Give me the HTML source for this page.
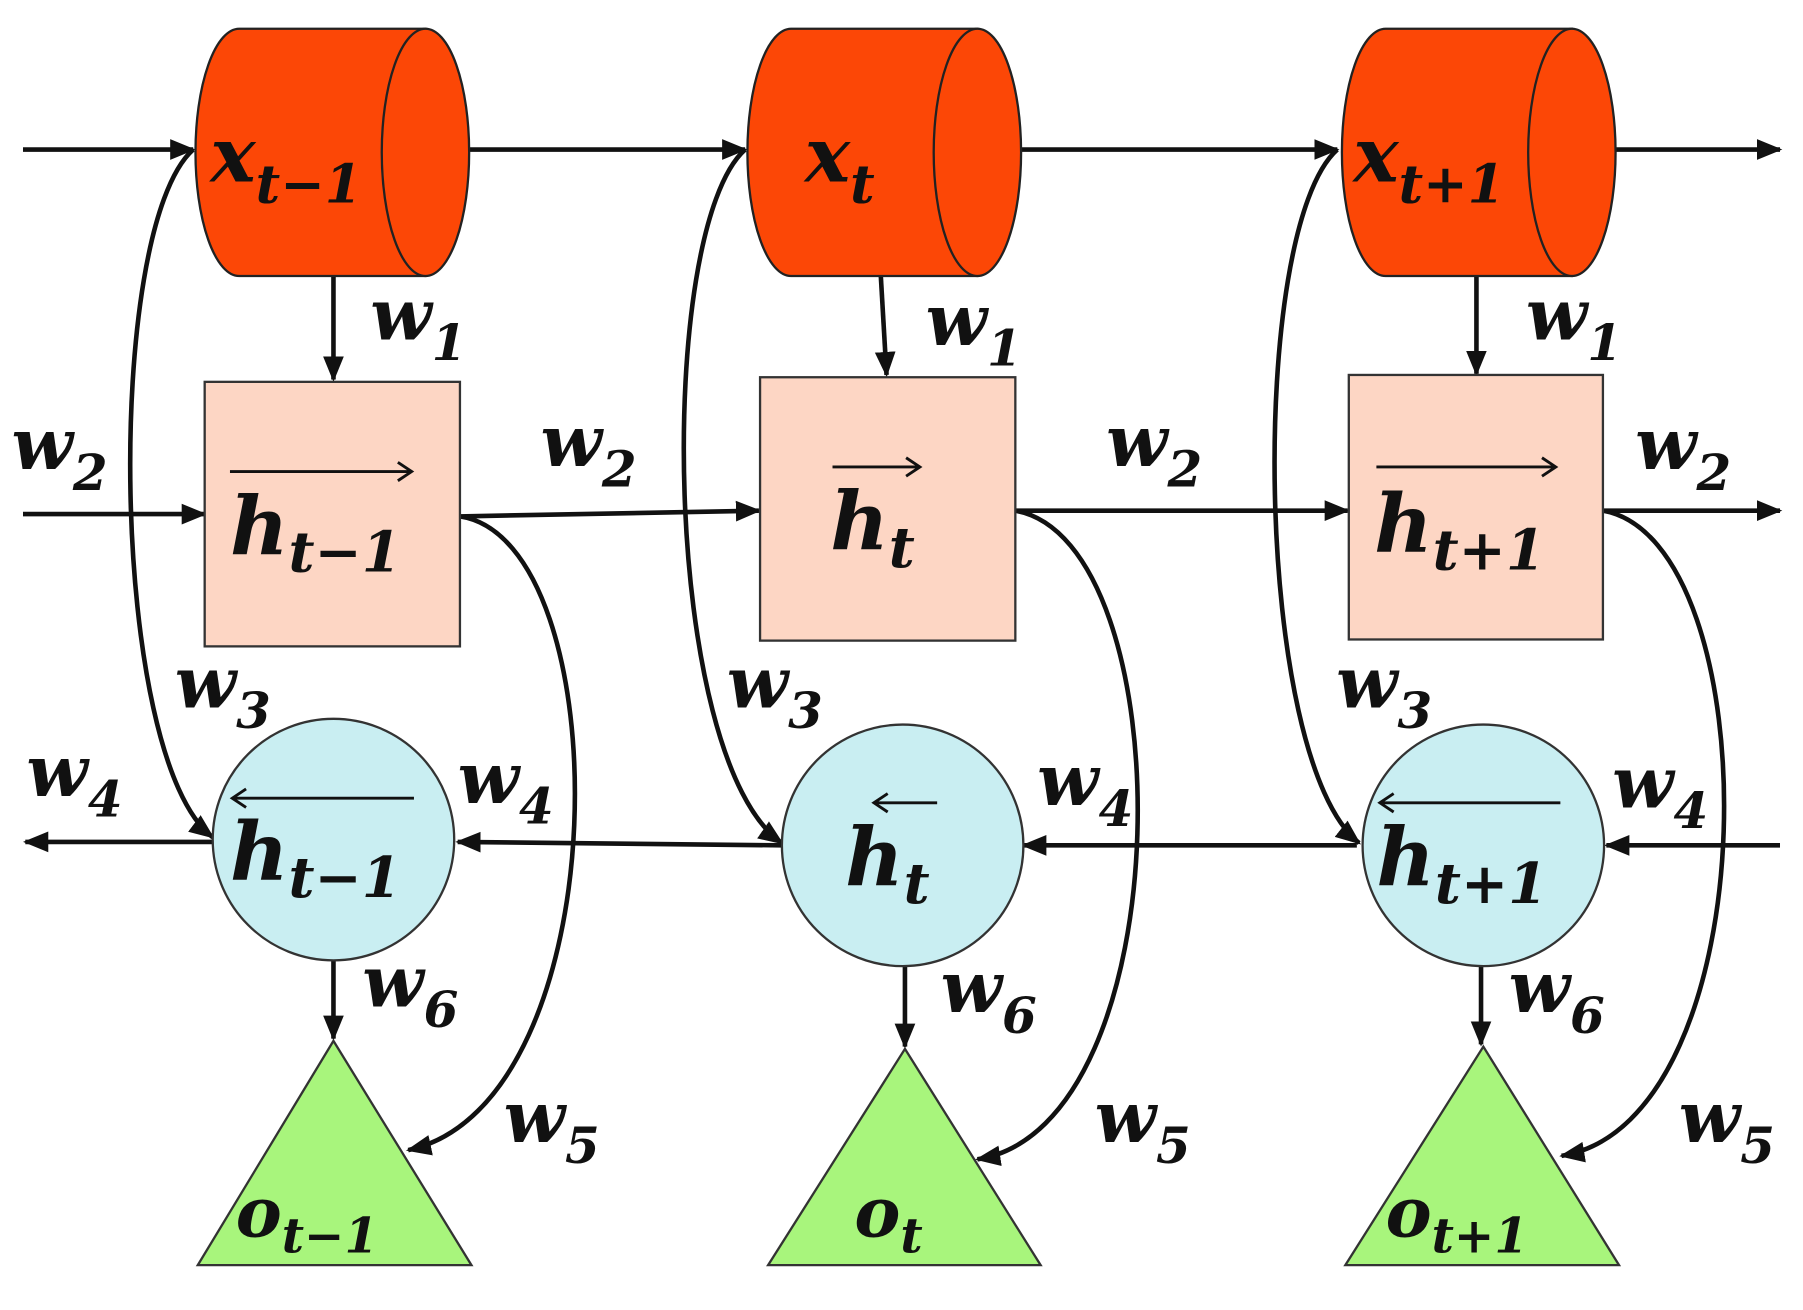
<!DOCTYPE html>
<html><head><meta charset="utf-8"><style>
html,body{margin:0;padding:0;background:#fff}
svg{display:block}
text{font-family:"DejaVu Serif","Liberation Serif",serif;font-weight:bold;font-style:italic;fill:#111}
.s{font-size:0.7em}
</style></head><body>
<svg width="1803" height="1310" viewBox="0 0 1568 1139" preserveAspectRatio="none" xmlns="http://www.w3.org/2000/svg">
<defs>
<marker id="b" viewBox="0 0 22 22" refX="20" refY="11" markerWidth="22" markerHeight="22" orient="auto" markerUnits="userSpaceOnUse">
<path d="M0,2 L22,11 L0,20 z" fill="#111"/>
</marker>
</defs>
<g stroke="#111" stroke-width="4" fill="none" marker-end="url(#b)">
<line x1="20" y1="130" x2="168" y2="130"/>
<line x1="408" y1="130" x2="648" y2="130"/>
<line x1="888" y1="130" x2="1163" y2="130"/>
<line x1="1405" y1="130" x2="1548" y2="130"/>
<line x1="290" y1="240" x2="290" y2="330"/>
<line x1="766" y1="240" x2="771" y2="326"/>
<line x1="1284" y1="240" x2="1284" y2="325"/>
<line x1="20" y1="447" x2="178" y2="447"/>
<line x1="400" y1="449" x2="660" y2="444"/>
<line x1="883" y1="444" x2="1172" y2="444"/>
<line x1="1394" y1="444" x2="1548" y2="444"/>
<line x1="185" y1="732" x2="22" y2="732"/>
<line x1="680" y1="735" x2="398" y2="732"/>
<line x1="1180" y1="735" x2="890" y2="735"/>
<line x1="1548" y1="735" x2="1397" y2="735"/>
<line x1="290" y1="835" x2="290" y2="903"/>
<line x1="787" y1="840" x2="787" y2="910"/>
<line x1="1288" y1="840" x2="1288" y2="908"/>
<path d="M168,130 C90,200 95,660 185,728"/>
<path d="M648,130 C570,200 575,660 680,733"/>
<path d="M1163,130 C1085,200 1090,660 1182,733"/>
<path d="M400,449 C540,470 540,960 355,1000"/>
<path d="M883,444 C1030,470 1030,980 850,1008"/>
<path d="M1394,444 C1540,470 1540,975 1358,1005"/>
</g>
<g stroke="#222" stroke-width="2" fill="#fc4706">
<path d="M208,25 L370,25 L370,240 L208,240 A38,107.5 0 0 1 208,25 Z"/>
<ellipse cx="370" cy="132.5" rx="38" ry="107.5"/>
<path d="M688,25 L850,25 L850,240 L688,240 A38,107.5 0 0 1 688,25 Z"/>
<ellipse cx="850" cy="132.5" rx="38" ry="107.5"/>
<path d="M1205,25 L1367,25 L1367,240 L1205,240 A38,107.5 0 0 1 1205,25 Z"/>
<ellipse cx="1367" cy="132.5" rx="38" ry="107.5"/>
</g>
<g stroke="#333" stroke-width="2" fill="#fdd6c4">
<rect x="178" y="332" width="222" height="230"/>
<rect x="661" y="328" width="222" height="229"/>
<rect x="1173" y="326" width="221" height="230"/>
</g>
<g stroke="#333" stroke-width="2" fill="#c9eef2">
<circle cx="290" cy="730" r="105"/>
<circle cx="785" cy="735" r="105"/>
<circle cx="1290" cy="735" r="105"/>
</g>
<g stroke="#333" stroke-width="2" fill="#a8f57c">
<polygon points="290,905 410,1100 172,1100"/>
<polygon points="787,912 905,1100 668,1100"/>
<polygon points="1290,910 1408,1100 1170,1100"/>
</g>
<g stroke="#111" stroke-width="2.5" fill="none">
<path d="M200,410 H358 M346,402 L358,410 L346,418"/>
<path d="M724,406 H800 M788,398 L800,406 L788,414"/>
<path d="M1197,406 H1353 M1341,398 L1353,406 L1341,414"/>
<path d="M360,694 H202 M214,686 L202,694 L214,702"/>
<path d="M815,698 H760 M772,690 L760,698 L772,706"/>
<path d="M1357,698 H1200 M1212,690 L1200,698 L1212,706"/>
</g>
<g font-size="66">
<text x="183" y="158">x<tspan class="s" dy="18">t−1</tspan></text>
<text x="700" y="158">x<tspan class="s" dy="18">t</tspan></text>
<text x="1177" y="158">x<tspan class="s" dy="18">t+1</tspan></text>
<text x="200" y="482" font-size="70">h<tspan class="s" dy="15">t−1</tspan></text>
<text x="722" y="478" font-size="70">h<tspan class="s" dy="15">t</tspan></text>
<text x="1195" y="480" font-size="70">h<tspan class="s" dy="15">t+1</tspan></text>
<text x="200" y="765" font-size="70">h<tspan class="s" dy="15">t−1</tspan></text>
<text x="735" y="770" font-size="70">h<tspan class="s" dy="15">t</tspan></text>
<text x="1197" y="770" font-size="70">h<tspan class="s" dy="15">t+1</tspan></text>
<text x="205" y="1075" font-size="60">o<tspan class="s" dy="14">t−1</tspan></text>
<text x="743" y="1075" font-size="60">o<tspan class="s" dy="14">t</tspan></text>
<text x="1205" y="1075" font-size="60">o<tspan class="s" dy="14">t+1</tspan></text>
</g>
<g font-size="62">
<text x="322" y="295">w<tspan class="s" dy="18">1</tspan></text>
<text x="805" y="300">w<tspan class="s" dy="18">1</tspan></text>
<text x="1327" y="295">w<tspan class="s" dy="18">1</tspan></text>
<text x="10" y="408">w<tspan class="s" dy="18">2</tspan></text>
<text x="470" y="405">w<tspan class="s" dy="18">2</tspan></text>
<text x="962" y="405">w<tspan class="s" dy="18">2</tspan></text>
<text x="1422" y="408">w<tspan class="s" dy="18">2</tspan></text>
<text x="152" y="615">w<tspan class="s" dy="18">3</tspan></text>
<text x="632" y="615">w<tspan class="s" dy="18">3</tspan></text>
<text x="1162" y="615">w<tspan class="s" dy="18">3</tspan></text>
<text x="23" y="692">w<tspan class="s" dy="18">4</tspan></text>
<text x="398" y="698">w<tspan class="s" dy="18">4</tspan></text>
<text x="902" y="700">w<tspan class="s" dy="18">4</tspan></text>
<text x="1402" y="702">w<tspan class="s" dy="18">4</tspan></text>
<text x="315" y="875">w<tspan class="s" dy="18">6</tspan></text>
<text x="818" y="880">w<tspan class="s" dy="18">6</tspan></text>
<text x="1312" y="880">w<tspan class="s" dy="18">6</tspan></text>
<text x="438" y="993">w<tspan class="s" dy="18">5</tspan></text>
<text x="952" y="993">w<tspan class="s" dy="18">5</tspan></text>
<text x="1460" y="993">w<tspan class="s" dy="18">5</tspan></text>
</g>
</svg>
</body></html>
